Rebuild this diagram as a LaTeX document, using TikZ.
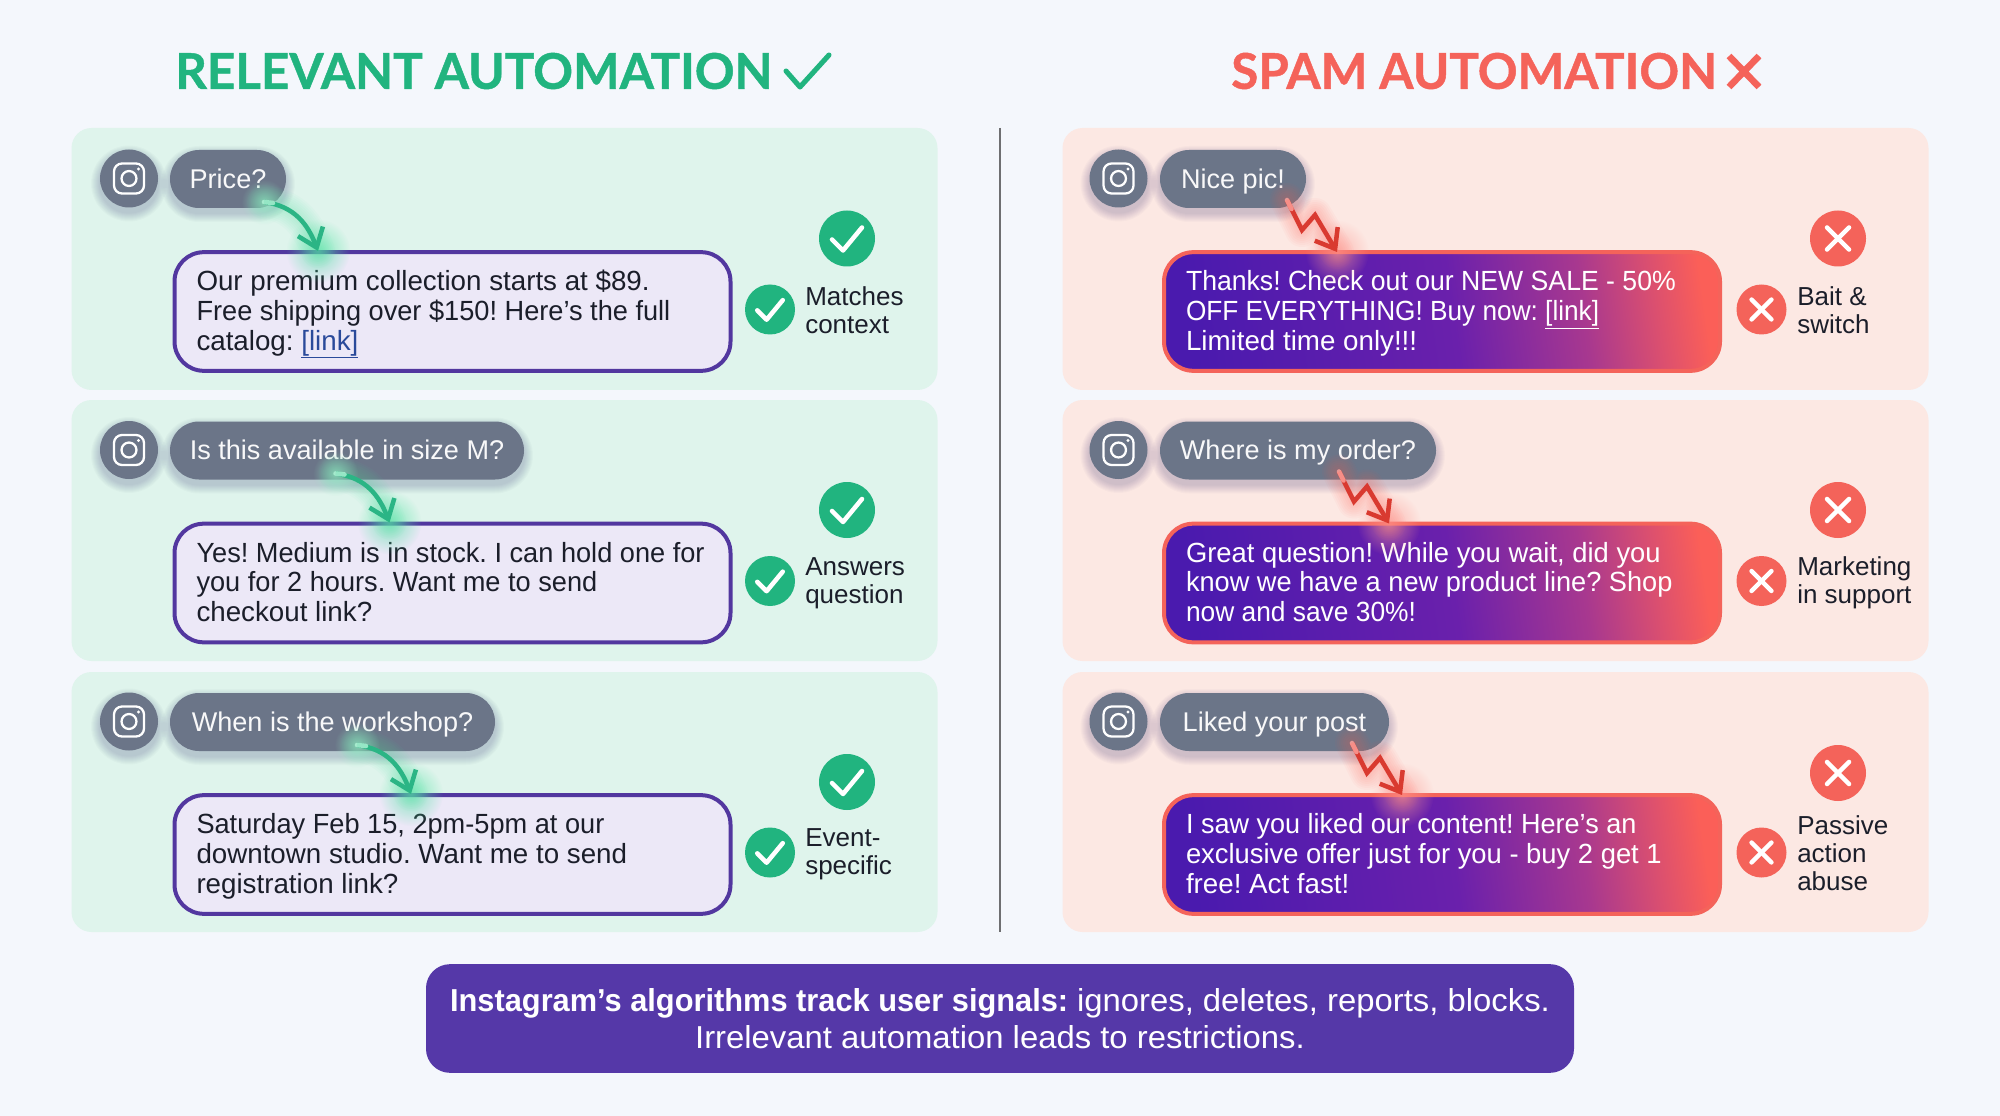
\documentclass[tikz,border=0pt]{standalone}
\usepackage{fontspec}
\setmainfont{Liberation Sans}
\newfontfamily\titlefont[BoldFeatures={FakeBold=0.9}]{Lato}
\usetikzlibrary{arrows.meta,fadings,calc}
\definecolor{pagebg}{HTML}{F4F7FC}
\definecolor{okpanel}{HTML}{DFF4EC}
\definecolor{badpanel}{HTML}{FCE8E3}
\definecolor{pillgray}{HTML}{6B7588}
\definecolor{okgreen}{HTML}{21B47F}
\definecolor{badred}{HTML}{F4635A}
\definecolor{replyfill}{HTML}{ECE8F7}
\definecolor{replyedge}{HTML}{52379F}
\definecolor{footfill}{HTML}{5538A8}
\definecolor{inktext}{HTML}{1B1E2A}
\definecolor{linkblue}{HTML}{2A4A9A}
\definecolor{glowgreen}{HTML}{4FE3A2}
\definecolor{glowred}{HTML}{FF5A4C}
\definecolor{zigred}{HTML}{D93A30}
\definecolor{arrowgreen}{HTML}{2BB585}
\definecolor{spamA}{HTML}{4A1AAE}
\definecolor{spamB}{HTML}{6A20AC}
\definecolor{spamC}{HTML}{A8388F}
\definecolor{spamD}{HTML}{DA4F70}
\definecolor{spamE}{HTML}{FB5F58}
\pgfdeclarehorizontalshading{spamshade}{100bp}{
  color(0bp)=(spamA); color(25bp)=(spamA); color(51bp)=(spamB); color(64bp)=(spamC);
  color(71bp)=(spamD); color(76bp)=(spamE); color(100bp)=(spamE)}
\tikzfading[name=glowfade,inner color=transparent!35,outer color=transparent!100]
\tikzset{
  bodyfont/.style={font=\frenchspacing\fontsize{20.8}{22.3}\selectfont},
  pillbox/.style={fill=pillgray,text=white!95!pillgray,rounded corners=21.7pt,minimum height=43.5pt,inner sep=0pt,text height=18pt,text depth=4pt,font=\fontsize{20.3}{24}\selectfont},
  igcircle/.style={circle,fill=pillgray,minimum size=43.5pt,inner sep=0pt},
  okreply/.style={draw=replyedge,line width=3pt,fill=replyfill,rounded corners=22pt,minimum width=417pt,minimum height=89pt,inner sep=0pt,text=inktext,bodyfont},
  badreply/.style={draw=badred,line width=3pt,shading=spamshade,shading angle=8,rounded corners=22pt,minimum width=417pt,minimum height=89pt,inner sep=0pt,text=white,bodyfont},
  sidelabel/.style={anchor=west,align=left,inner sep=0pt,text=inktext,font=\fontsize{19.5}{21}\selectfont},
  okbig/.style={circle,fill=okgreen,minimum size=42pt,inner sep=0pt},
  oksmall/.style={circle,fill=okgreen,minimum size=37.5pt,inner sep=0pt},
  badbig/.style={circle,fill=badred,minimum size=42pt,inner sep=0pt},
  badsmall/.style={circle,fill=badred,minimum size=37.5pt,inner sep=0pt},
  markline/.style={draw=white,line width=3.4pt,line cap=round,line join=round},
  titletext/.style={inner sep=0pt,font=\titlefont\bfseries\fontsize{37}{40}\selectfont},
}
\newcommand{\hsq}[2]{\scalebox{#1}[1]{#2}}
\newcommand{\replylines}[1]{\raisebox{-2.2pt}[\height][\depth]{\makebox[384pt][l]{\begin{tabular}{@{}l@{}}#1\end{tabular}}}}
\newcommand{\softshadow}[4]{%
  \foreach \k in {1,...,9}{%
    \pgfmathsetmacro{\rad}{((#4)-(#2))/2*0.75+\k*0.75}
    \fill[black!70!blue,opacity=.02,rounded corners=\rad pt] ({#1-\k},{#2-\k+5}) rectangle ({#3+\k},{#4+\k+5});
  }}
\newcommand{\glowpath}[2]{%
  \foreach \w in {6,10,...,34}{%
    \draw[#1,line width=\w*0.75pt,opacity=.04,line cap=round,line join=round] #2;
  }}
\newcommand{\igicon}[3]{% name, x, y
  \softshadow{#2-29}{#3-29}{#2+29}{#3+29}
  \node[igcircle] (#1) at (#2,#3) {};
  \draw[white,line width=1.7pt,rounded corners=6pt] ($(#1)+(-15,-15)$) rectangle ($(#1)+(15,15)$);
  \draw[white,line width=1.7pt] (#1) circle[radius=5.6pt];
  \fill[white] ($(#1)+(9.5,-9.5)$) circle[radius=1.3pt];
}
\newcommand{\tickdraw}[2]{% node, scale
  \draw[markline] ($(#1)+(-15*#2,1*#2)$) -- ($(#1)+(-4*#2,12*#2)$) -- ($(#1)+(15*#2,-11*#2)$);
}
\newcommand{\crossdraw}[2]{%
  \draw[markline] ($(#1)+(-11*#2,-11*#2)$) -- ($(#1)+(11*#2,11*#2)$);
  \draw[markline] ($(#1)+(-11*#2,11*#2)$) -- ($(#1)+(11*#2,-11*#2)$);
}
% id, dy, pill right, pill text, arrow dx, reply text, label, top-circle y, label y
\newcommand{\okrow}[9]{%
 \begin{scope}[shift={(0,#2)}]
  \igicon{ig#1}{129}{178.5}
  \softshadow{170}{150}{#3}{208}
  \node[pillbox,minimum width={(#3-170)*0.75pt}] (pill#1) at ({(170+#3)/2},179) {#4};
  \node[okreply] (reply#1) at (452.5,311.5) {\replylines{#6}};
  \node[okbig] (big#1) at (847,#8) {};
  \node[oksmall] (small#1) at (770,309.5) {};
  \tickdraw{big#1}{1}
  \tickdraw{small#1}{0.85}
  \node[sidelabel] (lab#1) at (805,#9) {#7};
  \coordinate (as#1) at (264+#5,202);
  \coordinate (ae#1) at (318+#5,251);
  \glowpath{glowgreen}{(as#1) .. controls ($(as#1)+(31,4)$) and ($(ae#1)+(-10,-26)$) .. (ae#1)}
  \fill[white!40!glowgreen,path fading=glowfade] (as#1) circle[radius=17pt];
  \fill[glowgreen,path fading=glowfade] (ae#1) circle[radius=24pt];
  \draw[arrowgreen,line width=3.4pt,-{Straight Barb[length=13pt,width=20pt,line width=3.4pt]}] (as#1) .. controls ($(as#1)+(31,4)$) and ($(ae#1)+(-10,-26)$) .. (ae#1);
  \draw[white!55!glowgreen,opacity=.8,line width=3.4pt,line cap=round] (as#1) -- ($(as#1)+(9,1)$);
 \end{scope}}
\newcommand{\badrow}[9]{%
 \begin{scope}[shift={(0,#2)}]
  \igicon{ig#1}{1118.5}{178.5}
  \softshadow{1160}{150}{#3}{208}
  \node[pillbox,minimum width={(#3-1160)*0.75pt}] (pill#1) at ({(1160+#3)/2},179) {#4};
  \node[badreply] (reply#1) at (1442,311.5) {\replylines{#6}};
  \node[badbig] (big#1) at (1838,#8) {};
  \node[badsmall] (small#1) at (1761.5,309.5) {};
  \crossdraw{big#1}{1}
  \crossdraw{small#1}{0.9}
  \node[sidelabel] (lab#1) at (1797,#9) {#7};
  \coordinate (as#1) at (1287+#5,200);
  \coordinate (am#1) at (1302+#5,230);
  \coordinate (an#1) at (1315+#5,215);
  \coordinate (ae#1) at (1337+#5,252);
  \glowpath{glowred}{(as#1) -- (am#1) -- (an#1) -- (ae#1)}
  \fill[white!40!glowred,path fading=glowfade] (ae#1) circle[radius=24pt];
  \draw[zigred,line width=3.4pt,-{Straight Barb[length=13pt,width=20pt,line width=3.4pt]}] (as#1) -- (am#1) -- (an#1) -- (ae#1);
  \draw[white!45!glowred,opacity=.8,line width=3.4pt,line cap=round] (as#1) -- ($(as#1)!0.3!(am#1)$);
 \end{scope}}
\newcommand{\oklink}[1]{\textcolor{linkblue}{\underline{#1}}}
\begin{document}
\begin{tikzpicture}[x=0.75pt,y=-0.75pt]
\useasboundingbox (0,0) rectangle (2000,1116);
\fill[pagebg] (0,0) rectangle (2000,1116);
% titles
\node[titletext,text=okgreen,anchor=west] (t1) at (175,71) {RELEVANT AUTOMATION};
\draw[okgreen,line width=3.8pt,line cap=round,line join=round] (786,71) -- (800,87) -- (829,55);
\node[titletext,text=badred,anchor=west] (t2) at (1231,71) {SPAM AUTOMATION};
\draw[badred,line width=5pt] (1729,56) -- (1759,87) (1729,87) -- (1759,56);
% panels
\fill[okpanel,rounded corners=15pt] (71.5,128) rectangle (937.5,390);
\fill[okpanel,rounded corners=15pt] (71.5,400) rectangle (937.5,661);
\fill[okpanel,rounded corners=15pt] (71.5,672) rectangle (937.5,932);
\fill[badpanel,rounded corners=15pt] (1062.5,128) rectangle (1928.5,390);
\fill[badpanel,rounded corners=15pt] (1062.5,400) rectangle (1928.5,661);
\fill[badpanel,rounded corners=15pt] (1062.5,672) rectangle (1928.5,932);
\draw[black!55!pagebg,line width=1.5pt] (1000,128) -- (1000,932);
% rows
\okrow{a}{0}{286}{Price?}{0}{Our premium collection starts at \$89.\\\hsq{.98}{Free shipping over \$150! Here’s the full}\\catalog: \oklink{[link]}}{Matches\\context}{238.5}{310}
\okrow{b}{271.5}{524}{Is this available in size M?}{71.5}{\hsq{.98}{Yes! Medium is in stock. I can hold one for}\\\hsq{.98}{you for 2 hours. Want me to send}\\checkout link?}{Answers\\question}{238.5}{311.5}
\okrow{c}{543}{495}{When is the workshop?}{93}{\hsq{.98}{Saturday Feb 15, 2pm-5pm at our}\\downtown studio. Want me to send\\registration link?}{Event-\\specific}{239}{311.5}
\badrow{d}{0}{1306}{Nice pic!}{0}{\hsq{.96}{Thanks! Check out our NEW SALE - 50\%}\\\hsq{.945}{OFF EVERYTHING! Buy now: \underline{[link]}}\\Limited time only!!!}{Bait \&\\switch}{238.5}{310}
\badrow{e}{271.5}{1436}{Where is my order?}{52}{\hsq{.987}{Great question! While you wait, did you}\\\hsq{.98}{know we have a new product line? Shop}\\\hsq{.95}{now and save 30\%!}}{Marketing\\in support}{238.5}{311.5}
\badrow{f}{543}{1389}{Liked your post}{65}{\hsq{.975}{I saw you liked our content! Here’s an}\\\hsq{.987}{exclusive offer just for you - buy 2 get 1}\\free! Act fast!}{Passive\\action\\abuse}{230}{310}
% footer
\node[fill=footfill,rounded corners=18pt,minimum width=861pt,minimum height=81.5pt,inner sep=0pt,align=center,text=white,font=\frenchspacing\fontsize{23.8}{27.8}\selectfont] (foot) at (1000,1018.5) {\hsq{.97}{\textbf{Instagram’s algorithms track user signals:}} \hsq{1.035}{ignores, deletes, reports, blocks.}\\\hsq{1.035}{Irrelevant automation leads to restrictions.}};
\end{tikzpicture}
\end{document}
